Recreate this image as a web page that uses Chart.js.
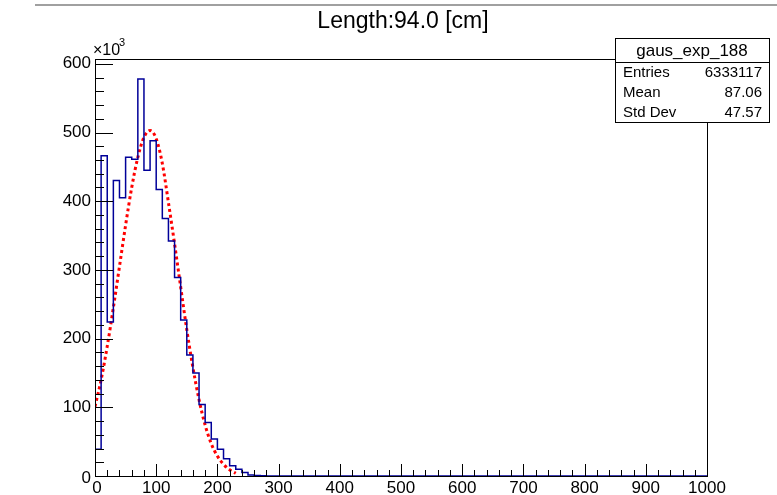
<!DOCTYPE html>
<html>
<head>
<meta charset="utf-8">
<script src="https://cdn.jsdelivr.net/npm/chart.js@4.4.0/dist/chart.umd.min.js"></script>
<style>
  html, body { margin: 0; padding: 0; background: #fff; }
  #wrap { width: 777px; height: 495px; position: relative; }
</style>
</head>
<body>
<div id="wrap"><canvas id="c" width="777" height="495"></canvas></div>
<script>
// texts
const chartTitle = "Length:94.0 [cm]";
const histName = "gaus_exp_188";
const statLabels = ["Entries", "Mean", "Std Dev"];
const statValues = ["6333117", "87.06", "47.57"];

// binning of the histogram (x in cm)
const xMin = 0;
const xMax = 1000;
const binWidth = 10;

// bin contents, in units of 10^3 (100 bins of 10 cm)
const binCounts = [
  39, 466, 224, 430, 405, 464, 461, 578, 445, 488,
  417, 375, 342, 289, 227, 176, 150, 104, 78, 54,
  39, 25, 15, 10, 5, 1.5, 0.6, 0.3, 0, 0,
  0, 0, 0, 0, 0, 0, 0, 0, 0, 0,
  0, 0, 0, 0, 0, 0, 0, 0, 0, 0,
  0, 0, 0, 0, 0, 0, 0, 0, 0, 0,
  0, 0, 0, 0, 0, 0, 0, 0, 0, 0,
  0, 0, 0, 0, 0, 0, 0, 0, 0, 0,
  0, 0, 0, 0, 0, 0, 0, 0, 0, 0,
  0, 0, 0, 0, 0, 0, 0, 0, 0, 0
];

// fitted curve (10^3)
const fitX = [0, 10, 20, 30, 40, 50, 60, 70, 80, 90, 100, 110,
  120, 130, 140, 150, 160, 170, 180, 190, 200, 210, 220, 230];
const fitY = [101, 140, 189, 245, 305, 365, 420, 464, 493, 503, 491, 455,
  398, 338, 275, 213, 158, 111, 74, 47, 29, 17, 9, 4];

// axes
const xTicks = [0, 100, 200, 300, 400, 500, 600, 700, 800, 900, 1000];
const yTicks = [0, 100, 200, 300, 400, 500, 600];
const yMax = 607;

// histogram outline: one point per bin low edge, plus the upper edge
const histPoints = binCounts.map((v, i) => ({ x: xMin + i * binWidth, y: v }));
histPoints.push({ x: xMax, y: binCounts[binCounts.length - 1] });
const fitPoints = fitX.map((v, i) => ({ x: v, y: fitY[i] }));

const FONT = '"Liberation Sans", Arial, Helvetica, sans-serif';

const rootStyle = {
  id: "rootStyle",
  beforeDraw(chart) {
    const ctx = chart.ctx;
    ctx.save();
    ctx.fillStyle = "#fff";
    ctx.fillRect(0, 0, chart.width, chart.height);
    ctx.restore();
  },
  afterDraw(chart) {
    const { ctx, chartArea: a, scales: { x, y } } = chart;
    ctx.save();

    // window edge line at the top
    ctx.strokeStyle = "#a0a0a0";
    ctx.lineWidth = 2;
    ctx.beginPath();
    ctx.moveTo(35, 5);
    ctx.lineTo(777, 5);
    ctx.stroke();

    // frame
    ctx.strokeStyle = "#000";
    ctx.lineWidth = 1;
    ctx.strokeRect(Math.round(a.left) + 0.5, Math.round(a.top) + 0.5,
      Math.round(a.right - a.left), Math.round(a.bottom - a.top));

    // x ticks (inward), 5 sub-divisions
    ctx.beginPath();
    xTicks.forEach((v, i) => {
      const px = Math.round(x.getPixelForValue(v)) + 0.5;
      ctx.moveTo(px, a.bottom);
      ctx.lineTo(px, a.bottom - 12);
      if (i < xTicks.length - 1) {
        const step = (xTicks[i + 1] - v) / 5;
        for (let k = 1; k < 5; k++) {
          const pm = Math.round(x.getPixelForValue(v + k * step)) + 0.5;
          ctx.moveTo(pm, a.bottom);
          ctx.lineTo(pm, a.bottom - 6);
        }
      }
    });
    // y ticks
    yTicks.forEach((v, i) => {
      const py = Math.round(y.getPixelForValue(v)) + 0.5;
      ctx.moveTo(a.left, py);
      ctx.lineTo(a.left + 18, py);
      const step = (i < yTicks.length - 1 ? yTicks[i + 1] : v + 100) - v;
      for (let k = 1; k < 5; k++) {
        const val = v + k * step / 5;
        if (val > yMax) break;
        const pm = Math.round(y.getPixelForValue(val)) + 0.5;
        ctx.moveTo(a.left, pm);
        ctx.lineTo(a.left + 9, pm);
      }
    });
    ctx.stroke();

    // tick labels
    ctx.fillStyle = "#000";
    ctx.font = "17px " + FONT;
    ctx.textAlign = "center";
    ctx.textBaseline = "top";
    xTicks.forEach(v => ctx.fillText(String(v), x.getPixelForValue(v) + (v === 0 ? 2 : 0), a.bottom + 4));
    ctx.textAlign = "right";
    ctx.textBaseline = "middle";
    yTicks.forEach(v => ctx.fillText(String(v), a.left - 4, y.getPixelForValue(v) + (v === 0 ? 2 : 0)));

    // exponent
    ctx.textAlign = "left";
    ctx.textBaseline = "alphabetic";
    ctx.font = "16px " + FONT;
    ctx.fillText("\u00d710", a.left - 2, a.top - 4);
    ctx.font = "11px " + FONT;
    ctx.fillText("3", a.left + 24, a.top - 13);

    // title
    ctx.font = "23px " + FONT;
    ctx.textAlign = "center";
    ctx.textBaseline = "middle";
    ctx.fillText(chartTitle, 403, 22);

    // stats box
    const bx = 615, by = 38, bw = 154, bh = 84, hh = 24;
    ctx.fillStyle = "#fff";
    ctx.fillRect(bx, by, bw, bh);
    ctx.strokeStyle = "#000";
    ctx.strokeRect(bx + 0.5, by + 0.5, bw, bh);
    ctx.beginPath();
    ctx.moveTo(bx, by + hh + 0.5);
    ctx.lineTo(bx + bw, by + hh + 0.5);
    ctx.stroke();
    ctx.fillStyle = "#000";
    ctx.font = "17px " + FONT;
    ctx.textAlign = "center";
    ctx.fillText(histName, bx + bw / 2, by + hh / 2 + 1);
    ctx.font = "15px " + FONT;
    const rowH = (bh - hh) / statLabels.length;
    statLabels.forEach((lab, i) => {
      const ty = by + hh + rowH * (i + 0.5) + 1;
      ctx.textAlign = "left";
      ctx.fillText(lab, bx + 8, ty);
      ctx.textAlign = "right";
      ctx.fillText(statValues[i], bx + bw - 7, ty);
    });

    ctx.restore();
  }
};

new Chart(document.getElementById("c"), {
  type: "line",
  data: {
    datasets: [
      {
        label: histName,
        data: histPoints,
        stepped: "before",
        borderColor: "#000099",
        borderWidth: 1.5,
        pointRadius: 0,
        fill: false
      },
      {
        label: "fit",
        data: fitPoints,
        borderColor: "#ff0000",
        borderWidth: 3,
        borderDash: [3, 3],
        cubicInterpolationMode: "monotone",
        pointRadius: 0,
        fill: false
      }
    ]
  },
  options: {
    responsive: false,
    animation: false,
    devicePixelRatio: 1,
    layout: { padding: { left: 95, right: 70, top: 59, bottom: 19 } },
    scales: {
      x: { type: "linear", min: xMin, max: xMax, display: false },
      y: { type: "linear", min: 0, max: yMax, display: false }
    },
    plugins: {
      legend: { display: false },
      tooltip: { enabled: false }
    }
  },
  plugins: [rootStyle]
});
</script>
</body>
</html>
